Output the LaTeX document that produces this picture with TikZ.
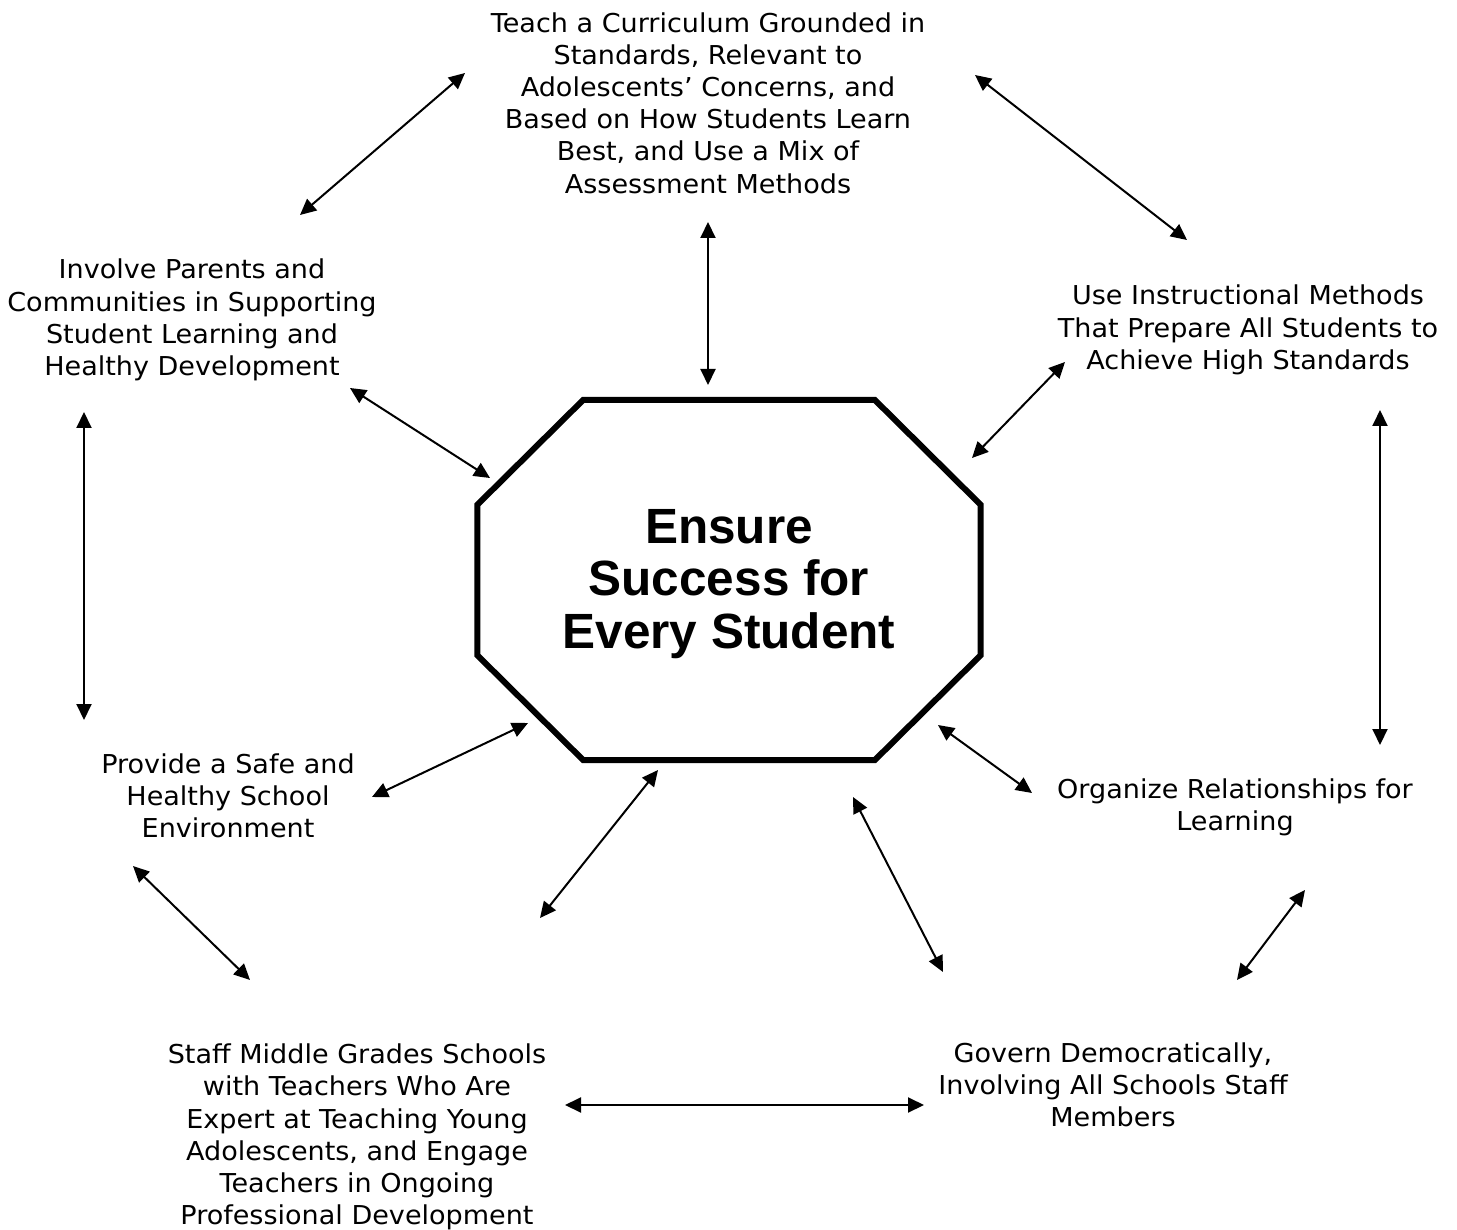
\documentclass[tikz,border=0pt]{standalone}
\usepackage{fontspec}
\setmainfont{DejaVu Sans}[FakeStretch=1.04]
\newfontfamily\titlefont{Liberation Sans}
\usetikzlibrary{arrows.meta}
\tikzset{
  goal/.style={align=center, inner sep=0pt, font=\fontsize{26}{32.2}\selectfont},
  headline/.style={align=center, inner sep=0pt, font=\titlefont\bfseries\fontsize{49.5}{52.5}\selectfont},
  link/.style={line width=2pt, {Triangle[length=16pt,width=15pt]}-{Triangle[length=16pt,width=15pt]}},
  octline/.style={line width=6pt}
}
\begin{document}
\begin{tikzpicture}[x=1pt,y=-1pt]
  \useasboundingbox (0,0) rectangle (1457,1230);
  \node[minimum width=503pt, minimum height=360pt, inner sep=0pt] (hub) at (729,580) {};
  \draw[octline] ([shift={(106,0)}]hub.north west) -- ([shift={(-106,0)}]hub.north east)
    -- ([shift={(0,105)}]hub.north east) -- ([shift={(0,-105)}]hub.south east)
    -- ([shift={(-106,0)}]hub.south east) -- ([shift={(106,0)}]hub.south west)
    -- ([shift={(0,-105)}]hub.south west) -- ([shift={(0,105)}]hub.north west) -- cycle;
  \node[headline] (title) at ([shift={(0,4)}]hub.center) {Ensure\\Success for\\Every Student};
  \node[goal] (teach) at (708,103) {Teach a Curriculum Grounded in\\Standards, Relevant to\\Adolescents’ Concerns, and\\Based on How Students Learn\\Best, and Use a Mix of\\Assessment Methods};
  \node[goal] (involve) at (192,320) {Involve Parents and\\Communities in Supporting\\Student Learning and\\Healthy Development};
  \node[goal] (instruct) at (1248,330) {Use Instructional Methods\\That Prepare All Students to\\Achieve High Standards};
  \node[goal] (safe) at (228,796) {Provide a Safe and\\Healthy School\\Environment};
  \node[goal] (relate) at (1235,807) {Organize Relationships for\\Learning};
  \node[goal] (staff) at (357,1137) {Staff Middle Grades Schools\\with Teachers Who Are\\Expert at Teaching Young\\Adolescents, and Engage\\Teachers in Ongoing\\Professional Development};
  \node[goal] (govern) at (1113,1085) {Govern Democratically,\\Involving All Schools Staff\\Members};
  \begin{scope}[link]
    \draw ([shift={(-243,-30)}]teach.center) to ([shift={(108,-105)}]involve.center);
    \draw ([shift={(267,-28)}]teach.center) to ([shift={(-61,-90)}]instruct.center);
    \draw ([shift={(0,119)}]teach.center) to ([shift={(-21,-195)}]hub.center);
    \draw ([shift={(158,68)}]involve.center) to ([shift={(-239,-102)}]hub.center);
    \draw ([shift={(-183,32)}]instruct.center) to ([shift={(243,-122)}]hub.center);
    \draw ([shift={(-108,92)}]involve.center) to ([shift={(-144,-76)}]safe.center);
    \draw ([shift={(132,80)}]instruct.center) to ([shift={(145,-62)}]relate.center);
    \draw ([shift={(-201,143)}]hub.center) to ([shift={(144,1)}]safe.center);
    \draw ([shift={(209,145)}]hub.center) to ([shift={(-203,-14)}]relate.center);
    \draw ([shift={(-71,190)}]hub.center) to ([shift={(183,-219)}]staff.center);
    \draw ([shift={(124,217)}]hub.center) to ([shift={(-170,-113)}]govern.center);
    \draw ([shift={(-95,70)}]safe.center) to ([shift={(-107,-157)}]staff.center);
    \draw ([shift={(70,83)}]relate.center) to ([shift={(124,-105)}]govern.center);
    \draw ([shift={(208,-32)}]staff.center) to ([shift={(-189,20)}]govern.center);
  \end{scope}
\end{tikzpicture}
\end{document}
